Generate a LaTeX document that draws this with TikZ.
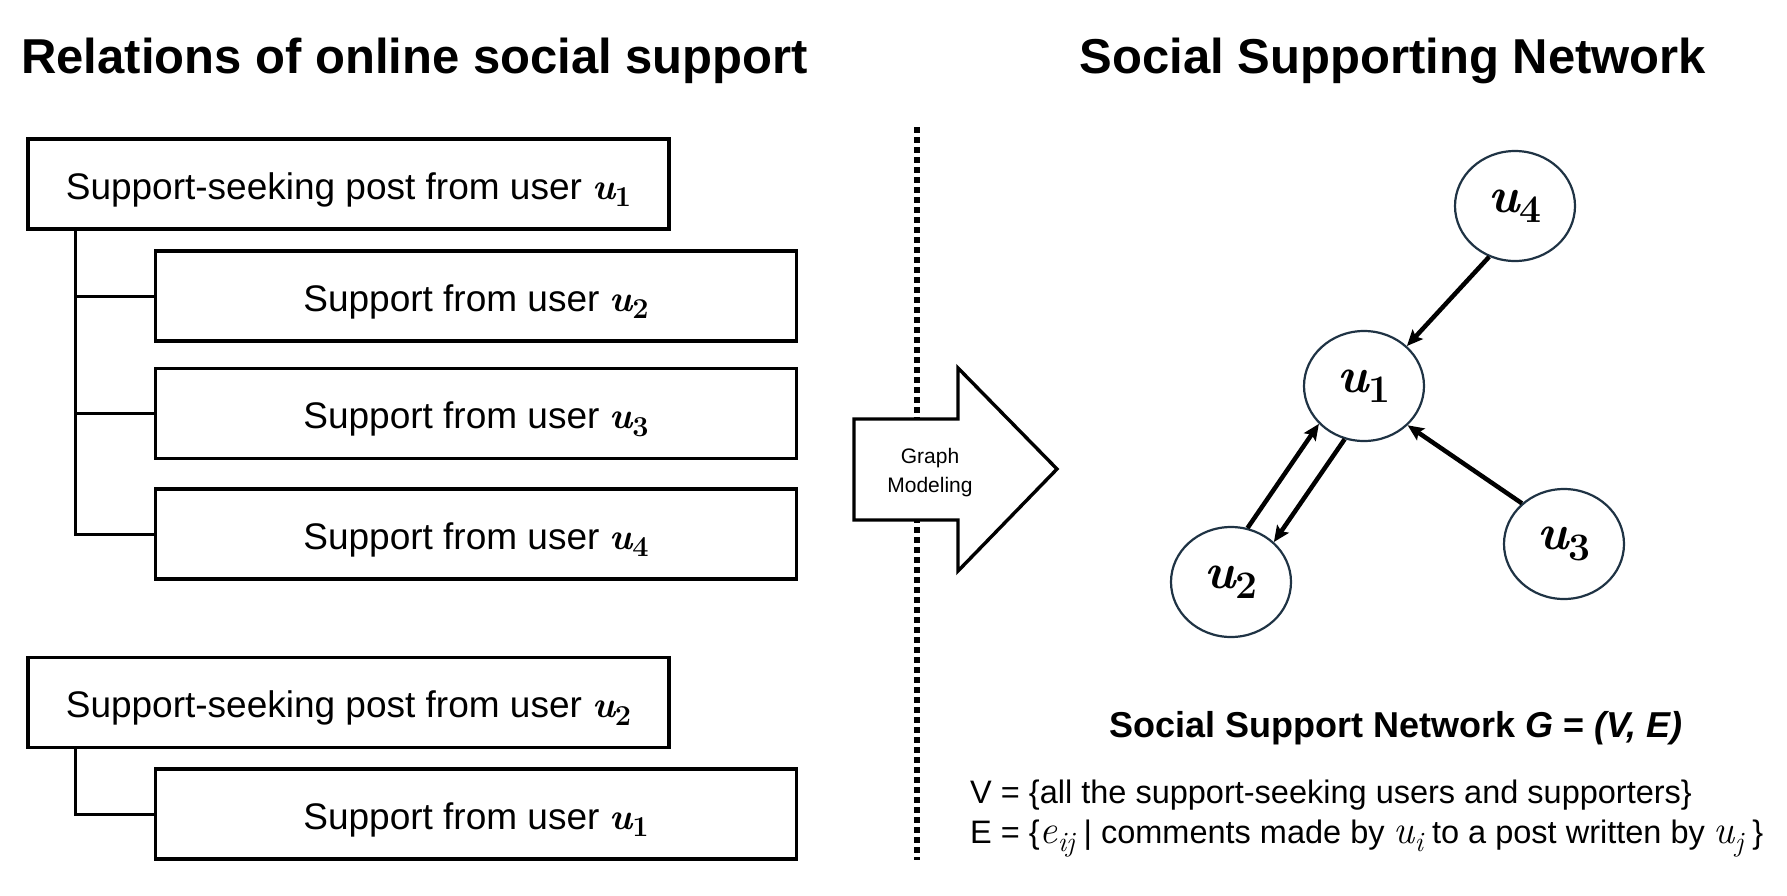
\documentclass[tikz,border=0pt]{standalone}
\usepackage{fontspec}
\setmainfont{Liberation Sans}
\newfontfamily\lmr{Latin Modern Roman}
\usetikzlibrary{shapes.geometric,arrows.meta}
\definecolor{nodeline}{HTML}{1F3344}
\newcommand\usr[1]{{\lmr\bfseries\itshape u}\kern-0.01em\raisebox{-0.21em}{\scalebox{0.78}{\lmr\bfseries #1}}}
\newcommand\mvar[2]{{\fontsize{40}{44}\selectfont\lmr\itshape #1\raisebox{-0.2em}{\scalebox{0.7}{#2}}}}
\tikzset{
  box/.style={draw, line width=3.3pt, minimum width=641pt, minimum height=90pt, inner sep=0pt, text height=30pt, text depth=0pt, font=\fontsize{37}{44}\selectfont},
  conn/.style={line width=3pt},
  user/.style={ellipse, draw=nodeline, line width=2.2pt, minimum width=120pt, minimum height=110pt, inner sep=0pt, font=\fontsize{50}{56}\selectfont},
  edge/.style={line width=4.5pt, -{Stealth[length=16pt,width=14pt,inset=3pt]}},
  bigtitle/.style={font=\fontsize{49}{58}\selectfont\bfseries, inner sep=0pt},
}
\begin{document}
\begin{tikzpicture}[x=1pt,y=-1pt]
\useasboundingbox (0,0) rectangle (1787,895);
% titles
\node[bigtitle, anchor=base west] (tl) at (21,73) {Relations of online social support};
\node[bigtitle, anchor=base] (tr) at (1393,73) {Social Supporting Network};
% boxes
\node[box] (b1) at (348.5,184) {Support-seeking post from user \usr{1}};
\node[box] (b2) at (476,296) {Support from user \usr{2}};
\node[box] (b3) at (476,413.5) {Support from user \usr{3}};
\node[box] (b4) at (476,534) {Support from user \usr{4}};
\node[box] (b5) at (348.5,702.5) {Support-seeking post from user \usr{2}};
\node[box] (b6) at (476,814) {Support from user \usr{1}};
\draw[conn] ([xshift=49.5pt]b1.south west) |- (b2.west);
\draw[conn] ([xshift=49.5pt]b1.south west) |- (b3.west);
\draw[conn] ([xshift=49.5pt]b1.south west) |- (b4.west);
\draw[conn] ([xshift=49.5pt]b5.south west) |- (b6.west);
% dotted divider
\coordinate (dtop) at (917,127);
\coordinate (dbot) at (917,860);
\draw[line width=6.5pt, dash pattern=on 5.5pt off 4.5pt] (dtop) -- (dbot);
% graph modeling arrow
\draw[line width=3.4pt, fill=white, line join=miter] (854,419) -- (958,419) -- (958,368) -- (1057,469) -- (958,571) -- (958,520) -- (854,520) -- cycle;
\node[anchor=base, font=\fontsize{21}{25}\selectfont, inner sep=0pt] (g1) at (930,463) {Graph};
\node[anchor=base, font=\fontsize{21}{25}\selectfont, inner sep=0pt] (g2) at (930,492) {Modeling};
% network
\node[user] (u4) at (1515,206) {\usr{4}};
\node[user] (u1) at (1364,386) {\usr{1}};
\node[user] (u2) at (1231,582) {\usr{2}};
\node[user] (u3) at (1564,544) {\usr{3}};
\draw[edge] (u4.243) -- (u1.43);
\draw[edge] (u3.136) -- (u1.318);
\draw[edge] (u2.73) -- (u1.220);
\draw[edge] (u1.250) -- (u2.43);
% bottom texts
\node[anchor=base, font=\fontsize{36}{42}\selectfont\bfseries, inner sep=0pt] (gt) at (1396,737) {Social Support Network \textit{G} = \textit{(V, E)}};
\node[anchor=base west, font=\fontsize{32.5}{38}\selectfont, inner sep=0pt] (vl) at (970,803) {V = \{all the support-seeking users and supporters\}};
\node[anchor=base west, font=\fontsize{32.5}{38}\selectfont, inner sep=0pt] (el) at (970,843) {E = \{\mvar{e}{ij} | comments made by \mvar{u}{i} to a post written by \mvar{u}{j} \}};
\end{tikzpicture}
\end{document}
